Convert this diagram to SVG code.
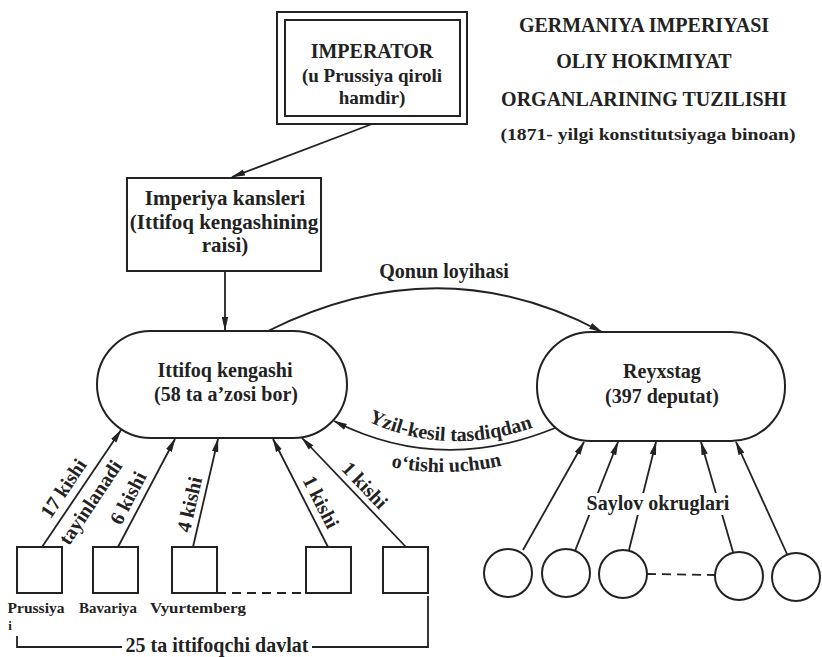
<svg xmlns="http://www.w3.org/2000/svg" width="822" height="657" viewBox="0 0 822 657">
<defs>
<style>
.t{font-family:"Liberation Serif","Times New Roman",serif;font-weight:bold;fill:#222;text-anchor:middle}
.s{fill:none;stroke:#222;stroke-width:2}
.c{fill:none;stroke:#222;stroke-width:1.8}
</style>
<marker id="ah" markerWidth="14" markerHeight="8" refX="13" refY="4" orient="auto" markerUnits="userSpaceOnUse"><path d="M0,0.8 L14,4 L0,7.2 Z" fill="#222"/></marker>
<path id="yzp" d="M350,412 Q445,466 552,420"/>
<path id="otp" d="M366,461 Q445,484 527,459"/>
</defs>
<rect width="822" height="657" fill="#fff"/>

<g id="title">
<text class="t" x="644" y="32" font-size="20">GERMANIYA IMPERIYASI</text>
<text class="t" x="644" y="68" font-size="20">OLIY HOKIMIYAT</text>
<text class="t" x="644" y="106" font-size="20">ORGANLARINING TUZILISHI</text>
<text class="t" x="648" y="140" font-size="17" textLength="295" lengthAdjust="spacingAndGlyphs">(1871- yilgi konstitutsiyaga binoan)</text>
</g>

<g id="imperator">
<rect class="s" x="277" y="12" width="190" height="112"/>
<rect class="s" x="285" y="20" width="175" height="96"/>
<text class="t" x="372" y="58" font-size="20">IMPERATOR</text>
<text class="t" x="372" y="82" font-size="19">(u Prussiya qiroli</text>
<text class="t" x="372" y="104" font-size="19">hamdir)</text>
</g>

<g id="kansler">
<rect class="s" x="127" y="178" width="194" height="93"/>
<text class="t" x="225" y="205" font-size="21">Imperiya kansleri</text>
<text class="t" x="224" y="229" font-size="21">(Ittifoq kengashining</text>
<text class="t" x="225" y="252" font-size="21">raisi)</text>
</g>

<g id="ittifoq">
<rect class="s" x="97" y="331" width="250" height="107" rx="53.5" ry="53.5"/>
<text class="t" x="225" y="377" font-size="20">Ittifoq kengashi</text>
<text class="t" x="226" y="401" font-size="20">(58 ta a’zosi bor)</text>
</g>

<g id="reyxstag">
<rect class="s" x="537" y="332" width="248" height="109" rx="54" ry="54"/>
<text class="t" x="662" y="378" font-size="20">Reyxstag</text>
<text class="t" x="662" y="403" font-size="20">(397 deputat)</text>
</g>

<g id="davlatlar">
<rect class="s" x="17" y="547" width="45" height="46"/>
<rect class="s" x="93" y="547" width="45" height="46"/>
<rect class="s" x="172" y="547" width="45" height="46"/>
<rect class="s" x="306" y="547" width="45" height="46"/>
<rect class="s" x="383" y="547" width="45" height="46"/>
<text class="t" x="36" y="613" font-size="15" textLength="57" lengthAdjust="spacingAndGlyphs">Prussiya</text>
<text class="t" x="10" y="630" font-size="13">i</text>
<text class="t" x="108" y="613" font-size="15" textLength="58" lengthAdjust="spacingAndGlyphs">Bavariya</text>
<text class="t" x="198" y="613" font-size="15" textLength="96" lengthAdjust="spacingAndGlyphs">Vyurtemberg</text>
</g>

<g id="okruglar">
<circle class="s" cx="508" cy="573" r="24"/>
<circle class="s" cx="566" cy="573" r="24"/>
<circle class="s" cx="623" cy="574" r="24"/>
<circle class="s" cx="739" cy="576" r="24"/>
<circle class="s" cx="796" cy="577" r="24"/>
</g>

<g id="connectors">
<line class="c" x1="372" y1="124" x2="232" y2="177" marker-end="url(#ah)"/>
<line class="c" x1="225" y1="271" x2="225" y2="330" marker-end="url(#ah)"/>
<path class="c" d="M268,331 Q440,245 602,332" marker-end="url(#ah)"/>
<path class="c" d="M555,428 Q440,475 334,421" marker-end="url(#ah)"/>
<line class="c" x1="42" y1="547" x2="121" y2="430" marker-end="url(#ah)"/>
<line class="c" x1="118" y1="547" x2="175" y2="439" marker-end="url(#ah)"/>
<line class="c" x1="193" y1="547" x2="218" y2="439" marker-end="url(#ah)"/>
<line class="c" x1="328" y1="547" x2="273" y2="439" marker-end="url(#ah)"/>
<line class="c" x1="406" y1="547" x2="302" y2="438" marker-end="url(#ah)"/>
<line class="c" x1="523" y1="550" x2="584" y2="442" marker-end="url(#ah)"/>
<line class="c" x1="575" y1="551" x2="618" y2="442" marker-end="url(#ah)"/>
<line class="c" x1="629" y1="550" x2="656" y2="442" marker-end="url(#ah)"/>
<line class="c" x1="733" y1="552" x2="701" y2="442" marker-end="url(#ah)"/>
<line class="c" x1="787" y1="554" x2="736" y2="442" marker-end="url(#ah)"/>
<line class="c" x1="217" y1="593" x2="306" y2="593" stroke-dasharray="9,6"/>
<line class="c" x1="647" y1="574" x2="715" y2="575" stroke-dasharray="9,6"/>
<polyline class="c" points="17,636 17,647 122,647"/>
<polyline class="c" points="312,647 428,647 428,596"/>
</g>

<g id="labels">
<text class="t" x="444" y="278" font-size="20">Qonun loyihasi</text>
<text class="t" font-size="20"><textPath href="#yzp" startOffset="50%">Yzil-kesil tasdiqdan</textPath></text>
<text class="t" font-size="20"><textPath href="#otp" startOffset="50%">o‘tishi uchun</textPath></text>
<text class="t" font-size="20" transform="translate(69,492) rotate(-56.2)">17 kishi</text>
<text class="t" font-size="20" transform="translate(96,506) rotate(-56.2)">tayinlanadi</text>
<text class="t" font-size="20" transform="translate(134,501) rotate(-62.4)">6 kishi</text>
<text class="t" font-size="20" transform="translate(196,506) rotate(-77.1)">4 kishi</text>
<text class="t" font-size="20" transform="translate(315,505) rotate(63.2)">1 kishi</text>
<text class="t" font-size="20" transform="translate(360,490) rotate(46.6)">1 kishi</text>
<rect x="582" y="493" width="154" height="22" fill="#fff"/>
<text class="t" x="658" y="510" font-size="20">Saylov okruglari</text>
<text class="t" x="217" y="652" font-size="20">25 ta ittifoqchi davlat</text>
</g>
</svg>
